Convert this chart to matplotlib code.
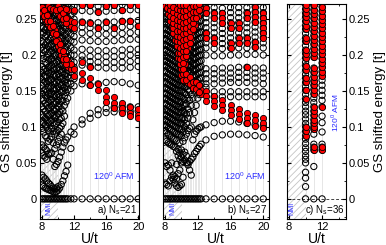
import numpy as np
import matplotlib
matplotlib.use("Agg")
import matplotlib.pyplot as plt
from matplotlib.ticker import MultipleLocator, FuncFormatter

plt.rcParams['font.family'] = ['Liberation Sans', 'DejaVu Sans']
plt.rcParams['mathtext.fontset'] = 'custom'
plt.rcParams['mathtext.rm'] = 'Liberation Sans'
plt.rcParams['hatch.linewidth'] = 0.6

nan = np.nan

# ---------------- panel a) Ns=21 ----------------
ua_lo = [8.0, 8.4, 8.8, 9.2, 9.6, 10.0, 10.4, 10.8, 11.2, 11.6, 12.0]
a_lo_open = [
    [0, 0.019, 0.033, 0.064, 0.075, 0.098, 0.108, 0.117, 0.128, 0.14, 0.147, 0.158, 0.166, 0.176, 0.184, 0.2, 0.211, 0.219, 0.229, 0.24, 0.249, 0.258, 0.267],
    [0, 0.015, 0.028, 0.058, 0.07, 0.088, 0.103, 0.112, 0.122, 0.133, 0.144, 0.152, 0.163, 0.171, 0.181, 0.19, 0.205, 0.214, 0.226, 0.235, 0.244, 0.253, 0.262, 0.27],
    [0, 0.013, 0.022, 0.062, 0.08, 0.095, 0.106, 0.116, 0.126, 0.135, 0.146, 0.155, 0.164, 0.175, 0.183, 0.193, 0.202, 0.212, 0.221, 0.232, 0.241, 0.25, 0.259, 0.268],
    [0, 0.011, 0.017, 0.064, 0.086, 0.098, 0.109, 0.119, 0.129, 0.138, 0.147, 0.157, 0.166, 0.177, 0.186, 0.195, 0.206, 0.215, 0.224, 0.235, 0.243, 0.253, 0.261, 0.27],
    [0, 0.009, 0.014, 0.045, 0.07, 0.09, 0.104, 0.113, 0.122, 0.132, 0.142, 0.151, 0.16, 0.17, 0.179, 0.188, 0.199, 0.208, 0.218, 0.228, 0.237, 0.247, 0.256, 0.265],
    [0, 0.012, 0.017, 0.052, 0.08, 0.095, 0.107, 0.118, 0.128, 0.137, 0.146, 0.156, 0.165, 0.174, 0.183, 0.192, 0.202, 0.211, 0.221, 0.231, 0.24, 0.25, 0.26, 0.268],
    [0, 0.02, 0.065, 0.09, 0.101, 0.112, 0.125, 0.136, 0.148, 0.158, 0.167, 0.176, 0.186, 0.195, 0.204, 0.213, 0.223, 0.233, 0.242, 0.251, 0.261, 0.27],
    [0, 0.032, 0.078, 0.115, 0.13, 0.143, 0.154, 0.163, 0.172, 0.181, 0.19, 0.2, 0.21, 0.219, 0.228, 0.238, 0.247, 0.256, 0.265],
    [0, 0.047, 0.086, 0.14, 0.152, 0.161, 0.17, 0.179, 0.188, 0.197, 0.206, 0.215, 0.224, 0.233, 0.243, 0.252, 0.262, 0.27],
    [0, 0.07, 0.093, 0.15, 0.16, 0.168, 0.176, 0.184, 0.192, 0.2, 0.21, 0.22, 0.229, 0.238, 0.246, 0.255, 0.264],
    [0, 0.09, 0.1, 0.157, 0.167, 0.175, 0.183, 0.19, 0.2, 0.207, 0.218, 0.226, 0.234, 0.242, 0.25, 0.26, 0.268],
]
a_lo_red = [
    [0.258, 0.267],
    [0.25, 0.26],
    [0.243, 0.252, 0.268],
    [0.235, 0.244, 0.262],
    [0.226, 0.235, 0.266],
    [0.212, 0.221, 0.258, 0.268],
    [0.2, 0.209, 0.252, 0.261],
    [0.19, 0.199, 0.246, 0.256, 0.266],
    [0.184, 0.192, 0.242, 0.25, 0.262],
    [0.18, 0.188, 0.24, 0.248],
    [0.171, 0.18, 0.238, 0.246, 0.262],
]
ua_mid = [8.2, 8.6, 9.0, 9.4, 9.8, 10.2, 10.6, 11.0]
a_mid_open = [
    [0, 0.017, 0.03, 0.06, 0.072, 0.093, 0.105, 0.114, 0.125, 0.137, 0.15, 0.161, 0.17, 0.18, 0.195, 0.207, 0.217, 0.231, 0.238, 0.247, 0.256, 0.265],
    [0, 0.014, 0.025, 0.055, 0.067, 0.085, 0.1, 0.109, 0.118, 0.13, 0.14, 0.149, 0.16, 0.169, 0.178, 0.188, 0.197, 0.208, 0.218, 0.228, 0.238, 0.248, 0.257, 0.266],
    [0, 0.012, 0.02, 0.063, 0.083, 0.097, 0.108, 0.117, 0.127, 0.137, 0.145, 0.156, 0.165, 0.174, 0.184, 0.194, 0.204, 0.213, 0.223, 0.233, 0.242, 0.251, 0.26, 0.269],
    [0, 0.01, 0.015, 0.055, 0.078, 0.094, 0.106, 0.116, 0.125, 0.135, 0.145, 0.154, 0.163, 0.173, 0.182, 0.192, 0.202, 0.212, 0.221, 0.231, 0.24, 0.25, 0.259, 0.268],
    [0, 0.01, 0.015, 0.048, 0.075, 0.093, 0.105, 0.116, 0.125, 0.134, 0.144, 0.153, 0.162, 0.172, 0.181, 0.19, 0.2, 0.21, 0.219, 0.229, 0.239, 0.248, 0.258, 0.267],
    [0, 0.015, 0.058, 0.085, 0.098, 0.11, 0.121, 0.132, 0.142, 0.151, 0.161, 0.17, 0.179, 0.188, 0.197, 0.207, 0.216, 0.226, 0.236, 0.245, 0.255, 0.264],
    [0, 0.025, 0.072, 0.105, 0.122, 0.137, 0.149, 0.159, 0.168, 0.177, 0.186, 0.195, 0.205, 0.215, 0.224, 0.233, 0.243, 0.252, 0.261, 0.27],
    [0, 0.038, 0.082, 0.135, 0.148, 0.158, 0.166, 0.175, 0.184, 0.193, 0.202, 0.211, 0.22, 0.229, 0.238, 0.248, 0.257, 0.266],
]
a_mid_red = [
    [0.254, 0.263],
    [0.247, 0.256],
    [0.239, 0.248, 0.265],
    [0.231, 0.24, 0.264],
    [0.219, 0.229, 0.262],
    [0.207, 0.216, 0.255, 0.264],
    [0.195, 0.205, 0.25, 0.259],
    [0.187, 0.195, 0.244, 0.252, 0.264],
]
ua_hi = [13, 14, 15, 16, 17, 18, 19, 20]
a_hi_open = [
    [0, 0, 0, 0, 0, 0, 0, 0],
    [0.104, 0.112, 0.117, 0.12, 0.121, 0.122, 0.122, 0.122],
    [0.11, 0.119, 0.124, 0.126, 0.127, 0.128, 0.128, 0.128],
    [0.16, 0.158, 0.16, 0.162, 0.163, 0.162, 0.16, 0.158],
    [0.186, 0.184, 0.183, 0.182, 0.182, 0.182, 0.183, 0.184],
    [0.193, 0.191, 0.19, 0.19, 0.19, 0.19, 0.191, 0.192],
    [0.199, 0.198, 0.198, 0.198, 0.198, 0.199, 0.2, 0.2],
    [0.208, 0.207, 0.206, 0.206, 0.206, 0.207, 0.208, 0.208],
    [0.221, 0.22, 0.219, 0.219, 0.22, 0.221, 0.222, 0.222],
    [0.231, 0.23, 0.229, 0.229, 0.23, 0.23, 0.231, 0.232],
    [0.239, 0.238, 0.238, 0.238, 0.238, 0.239, 0.24, 0.24],
    [0.246, 0.245, 0.245, 0.246, 0.246, 0.247, 0.247, 0.248],
    [0.262, 0.261, 0.26, 0.261, 0.262, 0.262, 0.263, 0.263],
    [0.27, 0.269, 0.268, 0.268, 0.269, 0.27, 0.27, 0.27],
]
a_hi_red = [
    [0.175, 0.168, 0.16, 0.151, 0.141, 0.134, 0.128, 0.125],
    [0.166, 0.159, 0.151, 0.142, 0.133, 0.126, 0.12, 0.117],
    [nan, nan, nan, 0.135, 0.127, 0.12, 0.115, 0.112],
    [0.19, 0.184, nan, nan, nan, nan, nan, nan],
    [0.246, 0.245, nan, 0.246, nan, 0.247, 0.247, nan],
    [nan, nan, 0.238, nan, 0.238, nan, nan, 0.24],
    [0.27, 0.269, nan, 0.268, 0.269, nan, 0.27, 0.27],
    [nan, nan, 0.26, nan, nan, 0.262, nan, nan],
]

# ---------------- panel b) Ns=27 ----------------
ub_lo = [8.0, 8.4, 8.8, 9.2, 9.6, 10.0, 10.4, 10.8, 11.2, 11.6, 12.0, 12.4]
b_lo_open = [
    [0, 0.022, 0.05, 0.082, 0.095, 0.103, 0.11, 0.118, 0.125, 0.133, 0.14, 0.147, 0.155, 0.163, 0.17, 0.178, 0.186, 0.193, 0.2, 0.208, 0.215, 0.223, 0.23, 0.238, 0.246, 0.253, 0.261, 0.268],
    [0, 0.018, 0.047, 0.078, 0.09, 0.099, 0.107, 0.114, 0.122, 0.129, 0.137, 0.144, 0.152, 0.159, 0.167, 0.174, 0.182, 0.189, 0.197, 0.204, 0.212, 0.219, 0.227, 0.234, 0.242, 0.249, 0.257, 0.264, 0.271],
    [0, 0.03, 0.05, 0.075, 0.086, 0.096, 0.104, 0.111, 0.119, 0.126, 0.134, 0.141, 0.149, 0.156, 0.164, 0.171, 0.179, 0.186, 0.194, 0.201, 0.209, 0.216, 0.224, 0.231, 0.239, 0.246, 0.254, 0.261, 0.269],
    [0, 0.022, 0.031, 0.072, 0.083, 0.093, 0.101, 0.108, 0.116, 0.123, 0.131, 0.138, 0.146, 0.153, 0.161, 0.168, 0.176, 0.183, 0.191, 0.198, 0.206, 0.213, 0.221, 0.228, 0.236, 0.243, 0.251, 0.258, 0.266],
    [0, 0.016, 0.035, 0.06, 0.069, 0.09, 0.098, 0.106, 0.113, 0.121, 0.128, 0.136, 0.143, 0.151, 0.158, 0.166, 0.173, 0.181, 0.188, 0.196, 0.203, 0.211, 0.218, 0.226, 0.233, 0.241, 0.248, 0.256, 0.263, 0.27],
    [0, 0.02, 0.05, 0.058, 0.068, 0.088, 0.097, 0.105, 0.112, 0.12, 0.127, 0.135, 0.142, 0.15, 0.157, 0.165, 0.172, 0.18, 0.187, 0.195, 0.202, 0.21, 0.217, 0.225, 0.232, 0.24, 0.247, 0.255, 0.262, 0.27],
    [0, 0.054, 0.065, 0.085, 0.1, 0.11, 0.12, 0.13, 0.138, 0.147, 0.156, 0.164, 0.172, 0.18, 0.188, 0.196, 0.204, 0.212, 0.22, 0.228, 0.236, 0.244, 0.252, 0.26, 0.268],
    [0, 0.047, 0.05, 0.095, 0.112, 0.125, 0.14, 0.152, 0.161, 0.17, 0.178, 0.186, 0.194, 0.202, 0.21, 0.218, 0.226, 0.234, 0.242, 0.25, 0.258, 0.266],
    [0, 0.033, 0.055, 0.1, 0.13, 0.145, 0.158, 0.166, 0.175, 0.183, 0.191, 0.199, 0.207, 0.215, 0.223, 0.231, 0.239, 0.247, 0.255, 0.263, 0.27],
    [0, 0.063, 0.09, 0.12, 0.15, 0.162, 0.17, 0.178, 0.186, 0.194, 0.202, 0.21, 0.218, 0.226, 0.234, 0.242, 0.25, 0.258, 0.266],
    [0, 0.07, 0.097, 0.14, 0.156, 0.165, 0.174, 0.182, 0.19, 0.198, 0.206, 0.214, 0.222, 0.23, 0.238, 0.246, 0.254, 0.262, 0.27],
    [0, 0.076, 0.1, 0.15, 0.16, 0.168, 0.176, 0.184, 0.192, 0.2, 0.208, 0.216, 0.224, 0.232, 0.24, 0.248, 0.256, 0.264],
]
b_lo_red = [
    [0.268],
    [0.257, 0.264, 0.271],
    [0.239, 0.246, 0.254, 0.261, 0.269],
    [0.221, 0.228, 0.236, 0.243, 0.251, 0.258, 0.266],
    [0.196, 0.203, 0.211, 0.218, 0.226, 0.233, 0.241, 0.248, 0.256, 0.263, 0.27],
    [0.172, 0.18, 0.187, 0.195, 0.202, 0.21, 0.217, 0.225, 0.232, 0.24, 0.247, 0.255, 0.262, 0.27],
    [0.164, 0.172, 0.188, 0.196, 0.204, 0.212, 0.22, 0.228, 0.236, 0.244, 0.252, 0.26, 0.268],
    [0.161, 0.17, 0.21, 0.218, 0.226, 0.234, 0.242, 0.25, 0.258, 0.266],
    [0.158, 0.166, 0.223, 0.231, 0.239, 0.247, 0.255, 0.263, 0.27],
    [0.154, 0.162, 0.242, 0.25, 0.258, 0.266],
    [0.149, 0.156, 0.254, 0.262, 0.27],
    [0.146, 0.152, 0.264],
]
ub_mid = [8.2, 8.6, 9.0, 9.4, 9.8, 10.2, 10.6, 11.0, 11.4, 11.8, 12.2]
b_mid_open = [
    [0, 0.02, 0.045, 0.08, 0.092, 0.101, 0.108, 0.116, 0.123, 0.131, 0.139, 0.146, 0.153, 0.161, 0.168, 0.176, 0.184, 0.191, 0.198, 0.206, 0.213, 0.221, 0.228, 0.236, 0.243, 0.25, 0.258, 0.265],
    [0, 0.025, 0.04, 0.076, 0.088, 0.097, 0.105, 0.113, 0.12, 0.128, 0.135, 0.143, 0.15, 0.158, 0.165, 0.173, 0.18, 0.188, 0.195, 0.203, 0.21, 0.218, 0.225, 0.233, 0.24, 0.248, 0.255, 0.263, 0.27],
    [0, 0.027, 0.033, 0.073, 0.084, 0.094, 0.102, 0.11, 0.117, 0.125, 0.132, 0.14, 0.147, 0.155, 0.162, 0.17, 0.177, 0.185, 0.192, 0.2, 0.207, 0.215, 0.222, 0.23, 0.237, 0.245, 0.252, 0.26, 0.267],
    [0, 0.018, 0.028, 0.048, 0.066, 0.081, 0.091, 0.099, 0.107, 0.114, 0.122, 0.129, 0.137, 0.144, 0.152, 0.159, 0.167, 0.174, 0.182, 0.189, 0.197, 0.204, 0.212, 0.219, 0.227, 0.234, 0.242, 0.249, 0.257, 0.264],
    [0, 0.018, 0.04, 0.055, 0.064, 0.078, 0.089, 0.097, 0.105, 0.113, 0.12, 0.128, 0.135, 0.143, 0.15, 0.158, 0.165, 0.173, 0.18, 0.188, 0.195, 0.203, 0.21, 0.218, 0.225, 0.233, 0.24, 0.248, 0.255, 0.263, 0.27],
    [0, 0.03, 0.052, 0.062, 0.08, 0.093, 0.103, 0.113, 0.122, 0.131, 0.14, 0.148, 0.157, 0.165, 0.173, 0.181, 0.189, 0.197, 0.205, 0.213, 0.221, 0.229, 0.237, 0.245, 0.253, 0.261, 0.269],
    [0, 0.05, 0.06, 0.09, 0.105, 0.118, 0.132, 0.145, 0.156, 0.165, 0.174, 0.182, 0.19, 0.198, 0.206, 0.214, 0.222, 0.23, 0.238, 0.246, 0.254, 0.262, 0.27],
    [0, 0.04, 0.052, 0.098, 0.12, 0.137, 0.15, 0.16, 0.169, 0.177, 0.185, 0.193, 0.201, 0.209, 0.217, 0.225, 0.233, 0.241, 0.249, 0.257, 0.265],
    [0, 0.058, 0.082, 0.11, 0.14, 0.154, 0.163, 0.172, 0.18, 0.188, 0.196, 0.204, 0.212, 0.22, 0.228, 0.236, 0.244, 0.252, 0.26, 0.268],
    [0, 0.066, 0.094, 0.13, 0.153, 0.163, 0.172, 0.18, 0.188, 0.196, 0.204, 0.212, 0.22, 0.228, 0.236, 0.244, 0.252, 0.26, 0.268],
    [0, 0.073, 0.099, 0.145, 0.158, 0.167, 0.175, 0.183, 0.191, 0.199, 0.207, 0.215, 0.223, 0.231, 0.239, 0.247, 0.255, 0.263, 0.271],
]
b_mid_red = [
    [0.265],
    [0.248, 0.255, 0.263, 0.27],
    [0.23, 0.237, 0.245, 0.252, 0.26, 0.267],
    [0.212, 0.219, 0.227, 0.234, 0.242, 0.249, 0.257, 0.264],
    [0.188, 0.195, 0.203, 0.21, 0.218, 0.225, 0.233, 0.24, 0.248, 0.255, 0.263, 0.27],
    [0.165, 0.173, 0.181, 0.189, 0.197, 0.205, 0.213, 0.221, 0.229, 0.237, 0.245, 0.253, 0.261, 0.269],
    [0.165, 0.174, 0.198, 0.206, 0.214, 0.222, 0.23, 0.238, 0.246, 0.254, 0.262, 0.27],
    [0.16, 0.169, 0.217, 0.225, 0.233, 0.241, 0.249, 0.257, 0.265],
    [0.154, 0.163, 0.236, 0.244, 0.252, 0.26, 0.268],
    [0.153, 0.163, 0.252, 0.26, 0.268],
    [0.148, 0.158, 0.263, 0.271],
]
ub_hi = [13, 14, 15, 16, 17, 18, 19, 20]
b_hi_open = [
    [0, 0, 0, 0, 0, 0, 0, 0],
    [0.082, 0.087, 0.089, 0.09, 0.09, 0.089, 0.088, 0.086],
    [0.103, 0.106, 0.108, 0.108, 0.107, 0.105, 0.103, 0.101],
    [nan, 0.142, 0.142, 0.142, 0.142, 0.142, 0.142, 0.142],
    [0.155, 0.149, 0.149, 0.149, 0.149, 0.149, 0.149, 0.149],
    [0.16, 0.16, 0.161, 0.162, 0.162, 0.162, 0.161, 0.16],
    [0.167, 0.167, 0.168, 0.168, 0.169, 0.169, 0.168, 0.168],
    [0.174, 0.174, 0.175, 0.175, 0.176, 0.176, 0.175, 0.175],
    [0.181, 0.181, 0.182, 0.182, 0.183, 0.183, 0.182, 0.182],
    [0.2, 0.199, 0.199, 0.2, 0.2, 0.201, 0.201, 0.2],
    [0.21, 0.209, 0.209, 0.21, 0.21, 0.21, 0.211, 0.21],
    [0.217, 0.217, 0.216, 0.217, 0.217, 0.217, 0.218, 0.217],
    [0.224, 0.224, 0.223, 0.224, 0.224, 0.224, 0.225, 0.224],
    [0.231, 0.231, 0.23, 0.231, 0.231, 0.231, 0.232, 0.231],
    [0.238, 0.238, 0.237, 0.238, 0.238, 0.238, 0.239, 0.238],
    [0.245, 0.245, 0.244, 0.245, 0.245, 0.245, 0.246, 0.245],
    [0.252, 0.252, 0.251, 0.252, 0.252, 0.252, 0.253, 0.252],
    [0.259, 0.259, 0.258, 0.259, 0.259, 0.259, 0.26, 0.259],
    [0.266, 0.266, 0.265, 0.266, 0.266, 0.266, 0.267, 0.266],
]
b_hi_red = [
    [0.15, 0.143, 0.137, 0.131, 0.125, 0.12, 0.116, 0.113],
    [0.143, 0.136, 0.13, 0.124, 0.118, 0.113, 0.109, 0.106],
    [0.136, 0.129, 0.123, 0.117, 0.111, 0.106, 0.102, 0.099],
    [0.266, nan, nan, nan, nan, nan, 0.267, nan],
    [0.259, 0.259, 0.258, nan, nan, 0.259, 0.26, 0.259],
    [nan, 0.252, 0.251, nan, nan, 0.252, 0.253, 0.252],
    [nan, nan, 0.244, 0.245, 0.245, nan, 0.246, 0.245],
    [nan, nan, nan, 0.238, 0.238, nan, nan, 0.238],
    [0.231, nan, nan, nan, nan, nan, nan, 0.231],
    [0.224, 0.224, nan, nan, 0.224, 0.224, nan, 0.224],
    [nan, 0.217, nan, 0.217, 0.217, 0.217, 0.218, nan],
    [nan, nan, nan, 0.21, nan, nan, 0.211, nan],
    [nan, nan, nan, nan, nan, 0.183, nan, nan],
]

# ---------------- panel c) Ns=36 ----------------
uc = [10, 11, 12]
c_open = [
    [0, 0.017, 0.029, 0.037, 0.05, 0.055, 0.06, 0.066, 0.071, 0.077, 0.083, 0.088, 0.094, 0.1, 0.105, 0.111, 0.117, 0.122, 0.128, 0.134, 0.139, 0.145, 0.151, 0.156, 0.162, 0.168, 0.173, 0.179, 0.185, 0.19, 0.196, 0.202, 0.207, 0.213, 0.219, 0.224, 0.23, 0.236, 0.241, 0.247, 0.253, 0.258, 0.264, 0.27],
    [0, 0.045, 0.068, 0.072, 0.076, 0.09, 0.097, 0.1, 0.105, 0.11, 0.116, 0.122, 0.128, 0.134, 0.14, 0.146, 0.152, 0.158, 0.164, 0.17, 0.176, 0.182, 0.197, 0.203, 0.209, 0.215, 0.221, 0.227, 0.233, 0.239, 0.245, 0.251, 0.257, 0.263, 0.269],
    [0, 0.068, 0.072, 0.076, 0.093, 0.106, 0.115, 0.128, 0.137, 0.144, 0.151, 0.158, 0.165, 0.171, 0.177, 0.183, 0.189, 0.195, 0.201, 0.207, 0.213, 0.219, 0.225, 0.231, 0.237, 0.243, 0.249, 0.255, 0.261, 0.267],
]
c_red = [
    [0.088, 0.094, 0.1, 0.139, 0.151, 0.162, 0.168, 0.179, 0.185, 0.196, 0.202, 0.207, 0.219, 0.224, 0.236, 0.241, 0.247, 0.253, 0.258, 0.264, 0.27],
    [0.068, 0.072, 0.097, 0.1, 0.105, 0.11, 0.116, 0.122, 0.128, 0.146, 0.152, 0.158, 0.164, 0.17, 0.176, 0.182, 0.197, 0.203, 0.209, 0.215, 0.221, 0.227, 0.233, 0.239, 0.245, 0.251, 0.257, 0.263, 0.269],
    [0.068, 0.072, 0.128, 0.171, 0.177, 0.183, 0.189, 0.195, 0.201, 0.207, 0.213, 0.219, 0.225, 0.231, 0.237, 0.243, 0.249, 0.255, 0.261, 0.267],
]

nmi_edge = 10.05
blue = '#2b2bff'


def cols_xy(us, lists):
    x, y = [], []
    for u, es in zip(us, lists):
        x += [u] * len(es)
        y += list(es)
    return np.array(x, dtype=float), np.array(y, dtype=float)


def bands_xy(us, bands):
    x, y = [], []
    for b in bands:
        for u, e in zip(us, b):
            if not np.isnan(e):
                x.append(u)
                y.append(e)
    return np.array(x, dtype=float), np.array(y, dtype=float)


def draw(ax, xo, yo, xr, yr, xlim):
    ax.set_xlim(*xlim)
    ax.set_ylim(-0.028, 0.271)
    ax.axvspan(xlim[0], nmi_edge, facecolor='none', edgecolor='#c4c4c4',
               hatch='/////', lw=0, zorder=0)
    for u in np.unique(xo):
        sel = yo[xo == u]
        ax.vlines(u, sel.min(), sel.max(), color='#dcdcdc', lw=0.5, zorder=1)
    ax.axhline(0, ls=(0, (3, 2)), color='#444444', lw=0.7, zorder=1)
    ax.scatter(xo, yo, s=20, facecolors='none', edgecolors='black', lw=0.75, zorder=3)
    ax.scatter(xr, yr, s=20, facecolors='red', edgecolors='black', lw=0.6, zorder=4)
    ax.xaxis.set_major_locator(MultipleLocator(4))
    ax.xaxis.set_minor_locator(MultipleLocator(2))
    ax.yaxis.set_major_locator(MultipleLocator(0.05))
    ax.yaxis.set_minor_locator(MultipleLocator(0.025))
    ax.yaxis.set_major_formatter(FuncFormatter(lambda v, p: '0' if abs(v) < 1e-9 else '%g' % round(v, 3)))
    ax.tick_params(which='both', direction='in', top=True, right=True, labelsize=8, pad=2)
    ax.tick_params(which='major', length=3)
    ax.tick_params(which='minor', length=1.5)
    ax.set_xlabel('U/t', fontsize=10, labelpad=0)
    for s in ax.spines.values():
        s.set_linewidth(0.8)


fig = plt.figure(figsize=(3.86, 2.45), dpi=100)
H = 245.0
W = 386.0
ax_a = fig.add_axes([40 / W, 1 - 219 / H, 99 / W, 215 / H])
ax_b = fig.add_axes([163 / W, 1 - 219 / H, 106 / W, 215 / H])
ax_c = fig.add_axes([287 / W, 1 - 219 / H, 59 / W, 215 / H])

xo1, yo1 = cols_xy(ua_lo + ua_mid, a_lo_open + a_mid_open)
xo2, yo2 = bands_xy(ua_hi, a_hi_open)
xr1, yr1 = cols_xy(ua_lo + ua_mid, a_lo_red + a_mid_red)
xr2, yr2 = bands_xy(ua_hi, a_hi_red)
draw(ax_a, np.r_[xo1, xo2], np.r_[yo1, yo2], np.r_[xr1, xr2], np.r_[yr1, yr2], (7.75, 20.1))

xo1, yo1 = cols_xy(ub_lo + ub_mid, b_lo_open + b_mid_open)
xo2, yo2 = bands_xy(ub_hi, b_hi_open)
xr1, yr1 = cols_xy(ub_lo + ub_mid, b_lo_red + b_mid_red)
xr2, yr2 = bands_xy(ub_hi, b_hi_red)
draw(ax_b, np.r_[xo1, xo2], np.r_[yo1, yo2], np.r_[xr1, xr2], np.r_[yr1, yr2], (7.75, 20.7))

xo, yo = cols_xy(uc, c_open)
xr, yr = cols_xy(uc, c_red)
draw(ax_c, xo, yo, xr, yr, (7.75, 14.9))

ax_a.set_ylabel('GS shifted energy [t]', fontsize=9.5, labelpad=2)
ax_b.tick_params(labelleft=False)
ax_c.tick_params(labelleft=False, labelright=True)
ax_c.yaxis.set_label_position('right')
ax_c.set_ylabel('GS shifted energy [t]', fontsize=9.5, rotation=90, labelpad=3)

ax_a.text(17.0, 0.031, '120$^{0}$ AFM', color=blue, fontsize=6.5, ha='center', va='center')
ax_b.text(17.8, 0.031, '120$^{0}$ AFM', color=blue, fontsize=6.5, ha='center', va='center')
ax_c.text(13.6, 0.12, '120$^{0}$ AFM', color=blue, fontsize=6, ha='center', va='center', rotation=90)
for ax, xn in ((ax_a, 8.9), (ax_b, 9.0), (ax_c, 8.3)):
    ax.text(xn, -0.014, 'NMI', color=blue, fontsize=5, rotation=90, ha='center', va='center')
ax_a.text(19.9, -0.015, 'a) N$_\\mathrm{s}$=21', fontsize=7, ha='right', va='center')
ax_b.text(20.5, -0.015, 'b) N$_\\mathrm{s}$=27', fontsize=7, ha='right', va='center')
ax_c.text(14.7, -0.015, 'c) N$_\\mathrm{s}$=36', fontsize=7, ha='right', va='center')

fig.savefig('out.png', dpi=100)
